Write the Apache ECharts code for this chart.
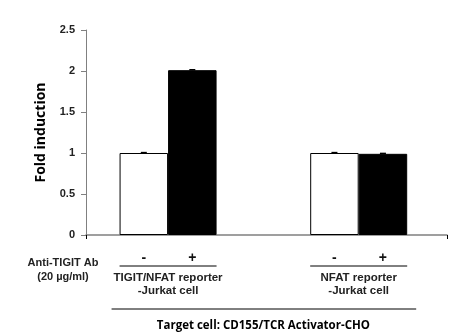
<!DOCTYPE html>
<html><head><meta charset="utf-8">
<script src="https://cdn.jsdelivr.net/npm/echarts@6/dist/echarts.min.js"></script>
<style>html,body{margin:0;padding:0;background:#fff}#c{width:454px;height:332px}</style>
</head><body><div id="c"></div>
<script>
const groups = ['TIGIT/NFAT reporter\n-Jurkat cell', 'NFAT reporter\n-Jurkat cell'];
const withoutAb = [1.0, 1.0];
const withAb = [2.01, 0.99];
const withoutAbErr = [0.005, 0.005];
const withAbErr = [0.005, 0.005];
const treatLabels = ['-', '+'];
const yMin = 0, yMax = 2.5, yStep = 0.5;
const yTitle = 'Fold induction';
const rowTitle = 'Anti-TIGIT Ab\n(20 \u00b5g/ml)';
const footer = 'Target cell: CD155/TCR Activator-CHO';

const BW = 48.5;
const chart = echarts.init(document.getElementById('c'), null, {renderer: 'canvas'});
const font = '"Liberation Sans", Arial, sans-serif';

function errSeries(vals, errs, side) {
  return {
    type: 'custom', xAxisIndex: 1, yAxisIndex: 1, z: 5,
    data: vals.map((v, i) => [i, v, errs[i]]),
    renderItem: function (params, api) {
      const c = api.coord([api.value(0), api.value(1)]);
      const t = api.coord([api.value(0), api.value(1) + api.value(2)]);
      const x = c[0] + side * BW / 2;
      return {type: 'group', children: [
        {type: 'line', shape: {x1: x, y1: c[1], x2: x, y2: t[1]}, style: {stroke: '#000', lineWidth: 1}},
        {type: 'line', shape: {x1: x - 3, y1: t[1], x2: x + 3, y2: t[1]}, style: {stroke: '#000', lineWidth: 1.5}}
      ]};
    }
  };
}

chart.setOption({
  animation: false,
  backgroundColor: '#fff',
  grid: [
    {left: 86, right: 7, top: 30, bottom: 97},
    {left: 72.75, width: 387, top: 30, bottom: 97}
  ],
  xAxis: [
    {gridIndex: 0, type: 'value', min: 0, max: 1, interval: 1,
     axisLine: {show: true, lineStyle: {color: '#808080', width: 1.5}},
     axisTick: {show: true, length: 4, lineStyle: {color: '#000'}},
     axisLabel: {show: false}, splitLine: {show: false}},
    {gridIndex: 1, type: 'category', data: groups, show: false}
  ],
  yAxis: [
    {gridIndex: 0, type: 'value', min: yMin, max: yMax, interval: yStep,
     name: yTitle, nameLocation: 'middle', nameGap: 38, nameRotate: 90,
     nameTextStyle: {fontFamily: '"Open Sans", sans-serif', fontWeight: 'bold', fontSize: 14, color: '#000'},
     axisLine: {show: true, lineStyle: {color: '#808080', width: 1}},
     axisTick: {show: true, inside: false, length: 5, lineStyle: {color: '#808080'}},
     axisLabel: {margin: 11, fontFamily: font, fontWeight: 'bold', fontSize: 11, color: '#222'},
     splitLine: {show: false}},
    {gridIndex: 1, type: 'value', min: yMin, max: yMax, show: false}
  ],
  series: [
    {type: 'bar', xAxisIndex: 1, yAxisIndex: 1, data: withoutAb, barWidth: BW, barGap: '0%',
     itemStyle: {color: '#fff', borderColor: '#000', borderWidth: 1}},
    {type: 'bar', xAxisIndex: 1, yAxisIndex: 1, data: withAb, barWidth: BW, barGap: '0%',
     itemStyle: {color: '#000', borderColor: '#000', borderWidth: 1}},
    errSeries(withoutAb, withoutAbErr, -1),
    errSeries(withAb, withAbErr, 1)
  ]
});

const gfx = [];
const baseY = chart.convertToPixel({yAxisIndex: 0}, 0);
groups.forEach((g, i) => {
  const cx = chart.convertToPixel({xAxisIndex: 1}, i);
  treatLabels.forEach((t, j) => {
    gfx.push({type: 'text', x: cx + (j === 0 ? -BW / 2 : BW / 2), y: baseY + 23,
      style: {text: t, fontFamily: font, fontWeight: 'bold', fontSize: 14, fill: '#111', align: 'center', verticalAlign: 'middle'}});
  });
  gfx.push({type: 'line', shape: {x1: cx - BW, y1: baseY + 31, x2: cx + BW, y2: baseY + 31}, style: {stroke: '#000', lineWidth: 1}});
  gfx.push({type: 'text', x: cx, y: baseY + 49,
    style: {text: g, fontFamily: font, fontWeight: 'bold', fontSize: 11.5, lineHeight: 13, fill: '#222', align: 'center', verticalAlign: 'middle'}});
});
const c0 = chart.convertToPixel({xAxisIndex: 1}, 0), c1 = chart.convertToPixel({xAxisIndex: 1}, 1);
gfx.push({type: 'line', shape: {x1: c0 - BW - 8, y1: baseY + 74, x2: c1 + BW + 9, y2: baseY + 74}, style: {stroke: '#000', lineWidth: 1}});
gfx.push({type: 'text', x: (c0 + c1) / 2, y: baseY + 91,
  style: {text: footer, fontFamily: '"Open Sans", sans-serif', fontWeight: 'bold', fontSize: 11.5, fill: '#000', align: 'center', verticalAlign: 'middle'}});
gfx.push({type: 'text', x: 63, y: baseY + 35,
  style: {text: rowTitle, fontFamily: font, fontWeight: 'bold', fontSize: 11, lineHeight: 14, fill: '#222', align: 'center', verticalAlign: 'middle'}});
chart.setOption({graphic: gfx});
</script></body></html>
